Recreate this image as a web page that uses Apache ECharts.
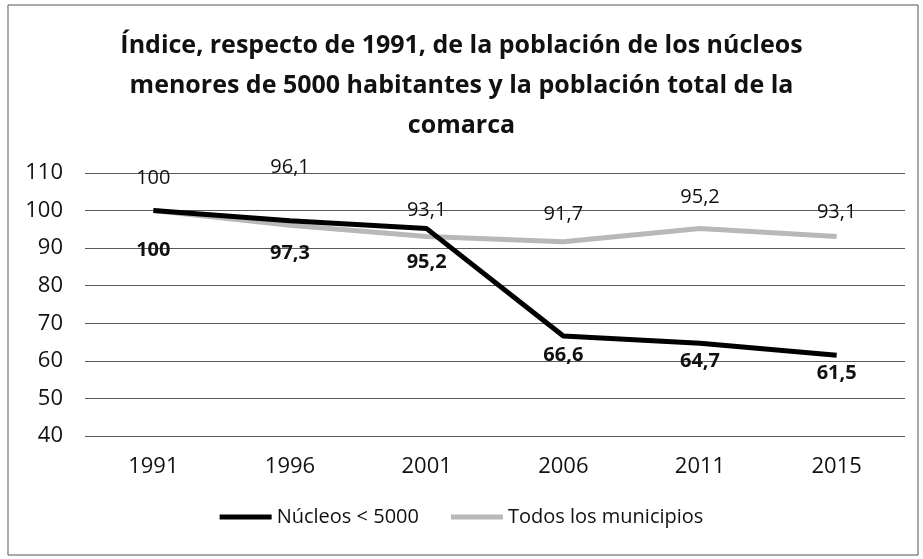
<!DOCTYPE html>
<html>
<head>
<meta charset="utf-8">
<script src="https://cdn.jsdelivr.net/npm/echarts@6/dist/echarts.min.js"></script>
<style>
  html, body { margin: 0; padding: 0; background: #fff; }
  #chart { width: 923px; height: 559px; }
</style>
</head>
<body>
<div id="chart"></div>
<script>
const years = ['1991', '1996', '2001', '2006', '2011', '2015']
const nucleos = [100, 97.3, 95.2, 66.6, 64.7, 61.5]
const todos = [100, 96.1, 93.1, 91.7, 95.2, 93.1]
const yTicks = { min: 40, max: 110, interval: 10 }

const font = '"Open Sans", "Noto Sans", sans-serif'
const fmt = p => String(p.value).replace('.', ',')

// label distances picked by eye from the reference
const nucleosDist = [30, 23, 24, 9, 8, 8]
const todosDist = [22, 48, 16, 17, 21, 14]

const chart = echarts.init(document.getElementById('chart'))

chart.setOption({
  backgroundColor: '#fff',
  textStyle: { fontFamily: font },
  title: {
    text: 'Índice, respecto de 1991, de la población de los núcleos\nmenores de 5000 habitantes y la población total de la\ncomarca',
    left: 'center',
    top: 21,
    textStyle: {
      fontFamily: font,
      fontSize: 25,
      fontWeight: 'bold',
      color: '#111',
      lineHeight: 40
    }
  },
  legend: {
    bottom: 27,
    left: 'center',
    itemWidth: 52,
    itemHeight: 5,
    itemGap: 32,
    icon: 'rect',
    textStyle: { fontSize: 20, color: '#111', fontFamily: font },
    data: ['Núcleos < 5000', 'Todos los municipios']
  },
  grid: {
    left: 85,
    right: 18,
    top: 173,
    bottom: 123
  },
  xAxis: {
    type: 'category',
    data: years,
    boundaryGap: true,
    axisLine: { show: false },
    axisTick: { show: false },
    axisLabel: { fontSize: 22, color: '#111', margin: 20, fontFamily: font }
  },
  yAxis: {
    type: 'value',
    min: yTicks.min,
    max: yTicks.max,
    interval: yTicks.interval,
    axisLine: { show: false },
    axisTick: { show: false },
    axisLabel: { fontSize: 22, color: '#111', margin: 22, fontFamily: font },
    splitLine: { lineStyle: { color: '#5a5a5a', width: 1 } }
  },
  series: [
    {
      name: 'Todos los municipios',
      type: 'line',
      symbol: 'circle',
      symbolSize: 0,
      z: 2,
      color: '#b8b8b8',
      lineStyle: { width: 5, color: '#b8b8b8' },
      data: todos.map((v, i) => ({
        value: v,
        label: { distance: todosDist[i] }
      })),
      label: {
        show: true,
        position: 'top',
        formatter: fmt,
        fontSize: 20,
        color: '#111',
        fontFamily: font
      }
    },
    {
      name: 'Núcleos < 5000',
      type: 'line',
      symbol: 'circle',
      symbolSize: 0,
      z: 3,
      color: '#000',
      lineStyle: { width: 5, color: '#000' },
      data: nucleos.map((v, i) => ({
        value: v,
        label: { distance: nucleosDist[i] }
      })),
      label: {
        show: true,
        position: 'bottom',
        formatter: fmt,
        fontSize: 20,
        fontWeight: 'bold',
        color: '#111',
        fontFamily: font
      }
    }
  ],
  graphic: [
    {
      type: 'rect',
      shape: { x: 8, y: 5, width: 910, height: 550 },
      style: { fill: 'none', stroke: '#555', lineWidth: 1 },
      silent: true
    }
  ]
})
</script>
</body>
</html>
